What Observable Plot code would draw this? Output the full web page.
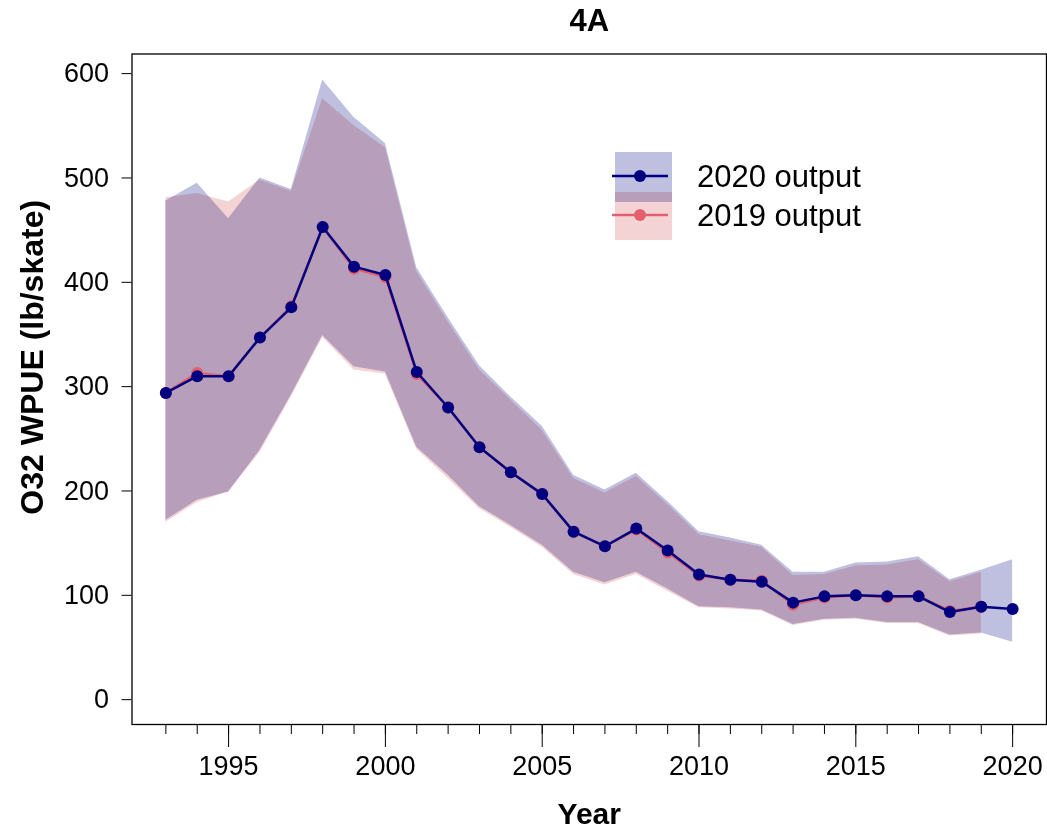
<!DOCTYPE html>
<html><head><meta charset="utf-8">
<script src="https://cdn.jsdelivr.net/npm/d3@7"></script>
<script src="https://cdn.jsdelivr.net/npm/@observablehq/plot@0.6"></script>
<style>
body{margin:0;background:#fff}
#wrap{position:relative;width:1047px;height:832px;isolation:isolate;background:#fff}
#legend{position:absolute;left:0;top:0;pointer-events:none}
</style>
</head><body><div id="wrap"></div>
<script>
const title = "4A";
const xTitle = "Year";
const yTitle = "O32 WPUE (lb/skate)";
const seriesNames = ["2020 output", "2019 output"];
const navy = "#000080";
const red = "#e2616c";
const pinkBand = "#f4d3d5";

const years2020 = [1993,1994,1995,1996,1997,1998,1999,2000,2001,2002,2003,2004,2005,2006,2007,2008,2009,2010,2011,2012,2013,2014,2015,2016,2017,2018,2019,2020];
const est2020 = [294,310,310,347,376,453,415,407,314,280,242,218,197,161,147,164,143,120,115,113,93,99,100,99,99,84,89,87];
const lo2020  = [172,191,199,239,292,349,319,314,242,215,185,167,148,122,112,122,106,89,88,86,72,77,78,74,74,62,64,55];
const hi2020  = [478,495,461,500,489,594,558,533,414,366,320,290,262,215,201,217,190,161,155,148,122,122,131,132,137,115,124,134];

const years2019 = [1993,1994,1995,1996,1997,1998,1999,2000,2001,2002,2003,2004,2005,2006,2007,2008,2009,2010,2011,2012,2013,2014,2015,2016,2017,2018,2019];
const est2019 = [294,313,310,347,377,453,413,405,312,280,242,218,197,161,147,163,141,119,115,114,91,98,100,98,99,85,89];
const lo2019  = [170,189,199,237,290,347,316,312,240,212,183,165,146,120,110,120,104,88,87,85,71,76,77,73,73,61,63];
const hi2019  = [481,485,477,498,487,576,550,529,410,362,316,287,258,212,198,214,187,158,152,146,119,120,128,129,134,113,122];

const xMajorTicks = [1995,2000,2005,2010,2015,2020];
const yTicks = [0,100,200,300,400,500,600];

const rows2020 = years2020.map((year,i)=>({year, est: est2020[i], lo: lo2020[i], hi: hi2020[i]}));
const rows2019 = years2019.map((year,i)=>({year, est: est2019[i], lo: lo2019[i], hi: hi2019[i]}));

const font = "'Liberation Sans', Arial, sans-serif";

const chart = Plot.plot({
  width: 1047, height: 832,
  marginLeft: 131.5, marginRight: 1, marginTop: 53.5, marginBottom: 108,
  style: {fontFamily: font, fontSize: "27px", color: "black", background: "white", overflow: "visible"},
  x: {domain: [1991.92, 2021.08]},
  y: {domain: [-23.8, 618.8]},
  marks: [
    Plot.areaY(rows2020, {x: "year", y1: "lo", y2: "hi", fill: navy, fillOpacity: 0.25}),
    Plot.areaY(rows2019, {x: "year", y1: "lo", y2: "hi", fill: pinkBand, mixBlendMode: "multiply"}),
    Plot.line(rows2019, {x: "year", y: "est", stroke: red, strokeWidth: 2.5}),
    Plot.dot(rows2019, {x: "year", y: "est", r: 6, fill: red}),
    Plot.line(rows2020, {x: "year", y: "est", stroke: navy, strokeWidth: 2.5}),
    Plot.dot(rows2020, {x: "year", y: "est", r: 6, fill: navy}),
    Plot.frame({stroke: "black", strokeWidth: 1.3}),
    Plot.axisY({ticks: yTicks, tickSize: 10, tickPadding: 13, fontSize: 27, label: null, tickFormat: d => String(d)}),
    Plot.axisX({ticks: years2020, tickSize: 10, tickFormat: () => "", label: null}),
    Plot.axisX({ticks: xMajorTicks, tickSize: 23, tickPadding: 8, fontSize: 27, label: null, tickFormat: d => String(d)}),
    Plot.text([title], {frameAnchor: "top", dy: -33, text: d => d, fontWeight: "bold", fontSize: 31, textAnchor: "middle", lineAnchor: "middle"}),
    Plot.text([xTitle], {frameAnchor: "bottom", dy: 90, text: d => d, fontWeight: "bold", fontSize: 30, textAnchor: "middle", lineAnchor: "middle"}),
    Plot.text([yTitle], {frameAnchor: "left", dx: -99.5, dy: -32, rotate: -90, text: d => d, fontWeight: "bold", fontSize: 32, textAnchor: "middle", lineAnchor: "middle"})
  ]
});
const wrap = document.getElementById("wrap");
wrap.appendChild(chart);

// Legend overlay
const lg = d3.create("svg").attr("id","legend").attr("width",1047).attr("height",832)
  .style("font-family", font);
const items = [
  {name: seriesNames[0], color: navy, band: navy, bandOpacity: 0.25, blend: "normal", rectTop: 152, rectBottom: 202, lineY: 176},
  {name: seriesNames[1], color: red, band: pinkBand, bandOpacity: 1, blend: "multiply", rectTop: 192, rectBottom: 240, lineY: 215}
];
for (const it of items) {
  lg.append("rect").attr("x",615).attr("y",it.rectTop).attr("width",57).attr("height",it.rectBottom-it.rectTop)
    .attr("fill",it.band).attr("fill-opacity",it.bandOpacity).style("mix-blend-mode", it.blend);
}
for (const it of items) {
  lg.append("line").attr("x1",612).attr("x2",668).attr("y1",it.lineY).attr("y2",it.lineY)
    .attr("stroke",it.color).attr("stroke-width",2.5);
  lg.append("circle").attr("cx",640).attr("cy",it.lineY).attr("r",6).attr("fill",it.color);
  lg.append("text").attr("x",697).attr("y",it.lineY).attr("dy","0.35em").attr("font-size",31)
    .attr("fill","black").text(it.name);
}
wrap.appendChild(lg.node());
</script>
</body></html>
